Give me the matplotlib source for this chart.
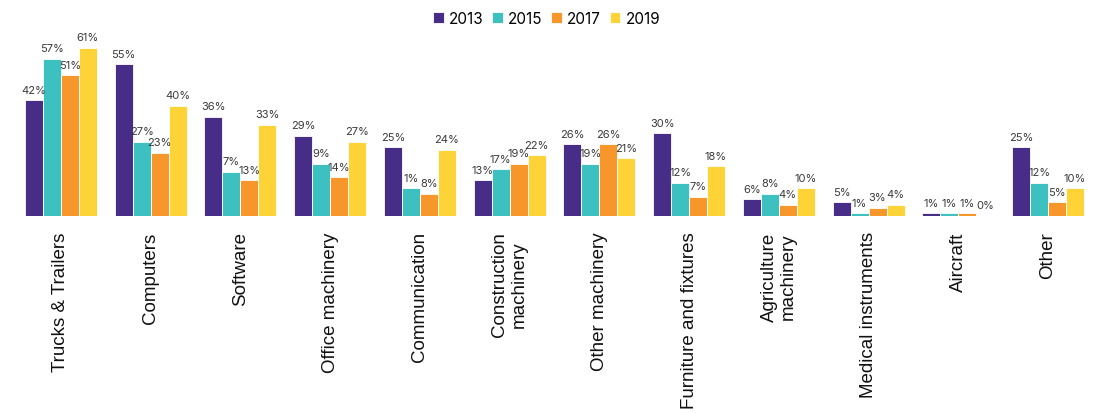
import numpy as np
import matplotlib
matplotlib.use("Agg")
import matplotlib.pyplot as plt

# categories and series (bar heights, labels as printed)
categories = ["Trucks & Trailers", "Computers", "Software", "Office machinery",
              "Communication", "Construction\nmachinery", "Other machinery",
              "Furniture and fixtures", "Agriculture\nmachinery",
              "Medical instruments", "Aircraft", "Other"]
years = ["2013", "2015", "2017", "2019"]

v2013 = [42, 55, 36, 29, 25, 13, 26, 30, 6, 5, 1, 25]
v2015 = [57, 27, 16, 19, 10, 17, 19, 12, 8, 1, 1, 12]
v2017 = [51, 23, 13, 14, 8, 19, 26, 7, 4, 3, 1, 5]
v2019 = [61, 40, 33, 27, 24, 22, 21, 18, 10, 4, 0, 10]

# the text printed above each bar
t2013 = ["42%", "55%", "36%", "29%", "25%", "13%", "26%", "30%", "6%", "5%", "1%", "25%"]
t2015 = ["57%", "27%", "7%", "9%", "1%", "17%", "19%", "12%", "8%", "1%", "1%", "12%"]
t2017 = ["51%", "23%", "13%", "14%", "8%", "19%", "26%", "7%", "4%", "3%", "1%", "5%"]
t2019 = ["61%", "40%", "33%", "27%", "24%", "22%", "21%", "18%", "10%", "4%", "0%", "10%"]

colors = ["#472D87", "#3CC0C0", "#F7962A", "#FED338"]

plt.rcParams["font.family"] = ["Liberation Sans", "DejaVu Sans"]

fig = plt.figure(figsize=(11, 4.14), dpi=100)
ax = fig.add_axes([25 / 1100, 197 / 414, 1059 / 1100, 193 / 414])

x = np.arange(len(categories))
w = 0.2
series = [v2013, v2015, v2017, v2019]
texts = [t2013, t2015, t2017, t2019]
for i, (vals, labs) in enumerate(zip(series, texts)):
    bars = ax.bar(x + (i - 1.5) * w, vals, w, color=colors[i], label=years[i],
                  edgecolor="white", linewidth=0.6)
    ax.bar_label(bars, labels=labs, padding=4, fontsize=8, color="#3a3a3a",
                 family=["Inter", "DejaVu Sans"])

ax.set_xlim(-0.4, 11.4)
ax.set_ylim(0, 70)
ax.set_xticks(x)
ax.set_xticklabels(categories, rotation=90, fontsize=13.5, color="#111111",
                   va="top", ha="center", multialignment="center")
ax.tick_params(axis="x", length=0, pad=11)
ax.set_yticks([])
for s in ax.spines.values():
    s.set_visible(False)

fig.legend(loc="upper center", bbox_to_anchor=(0.497, 1.005), ncol=4,
           frameon=False, handlelength=0.7, handleheight=0.7,
           handletextpad=0.35, columnspacing=0.55,
           prop={"family": ["Inter", "DejaVu Sans"], "size": 11})

fig.savefig("out.png", dpi=100)
